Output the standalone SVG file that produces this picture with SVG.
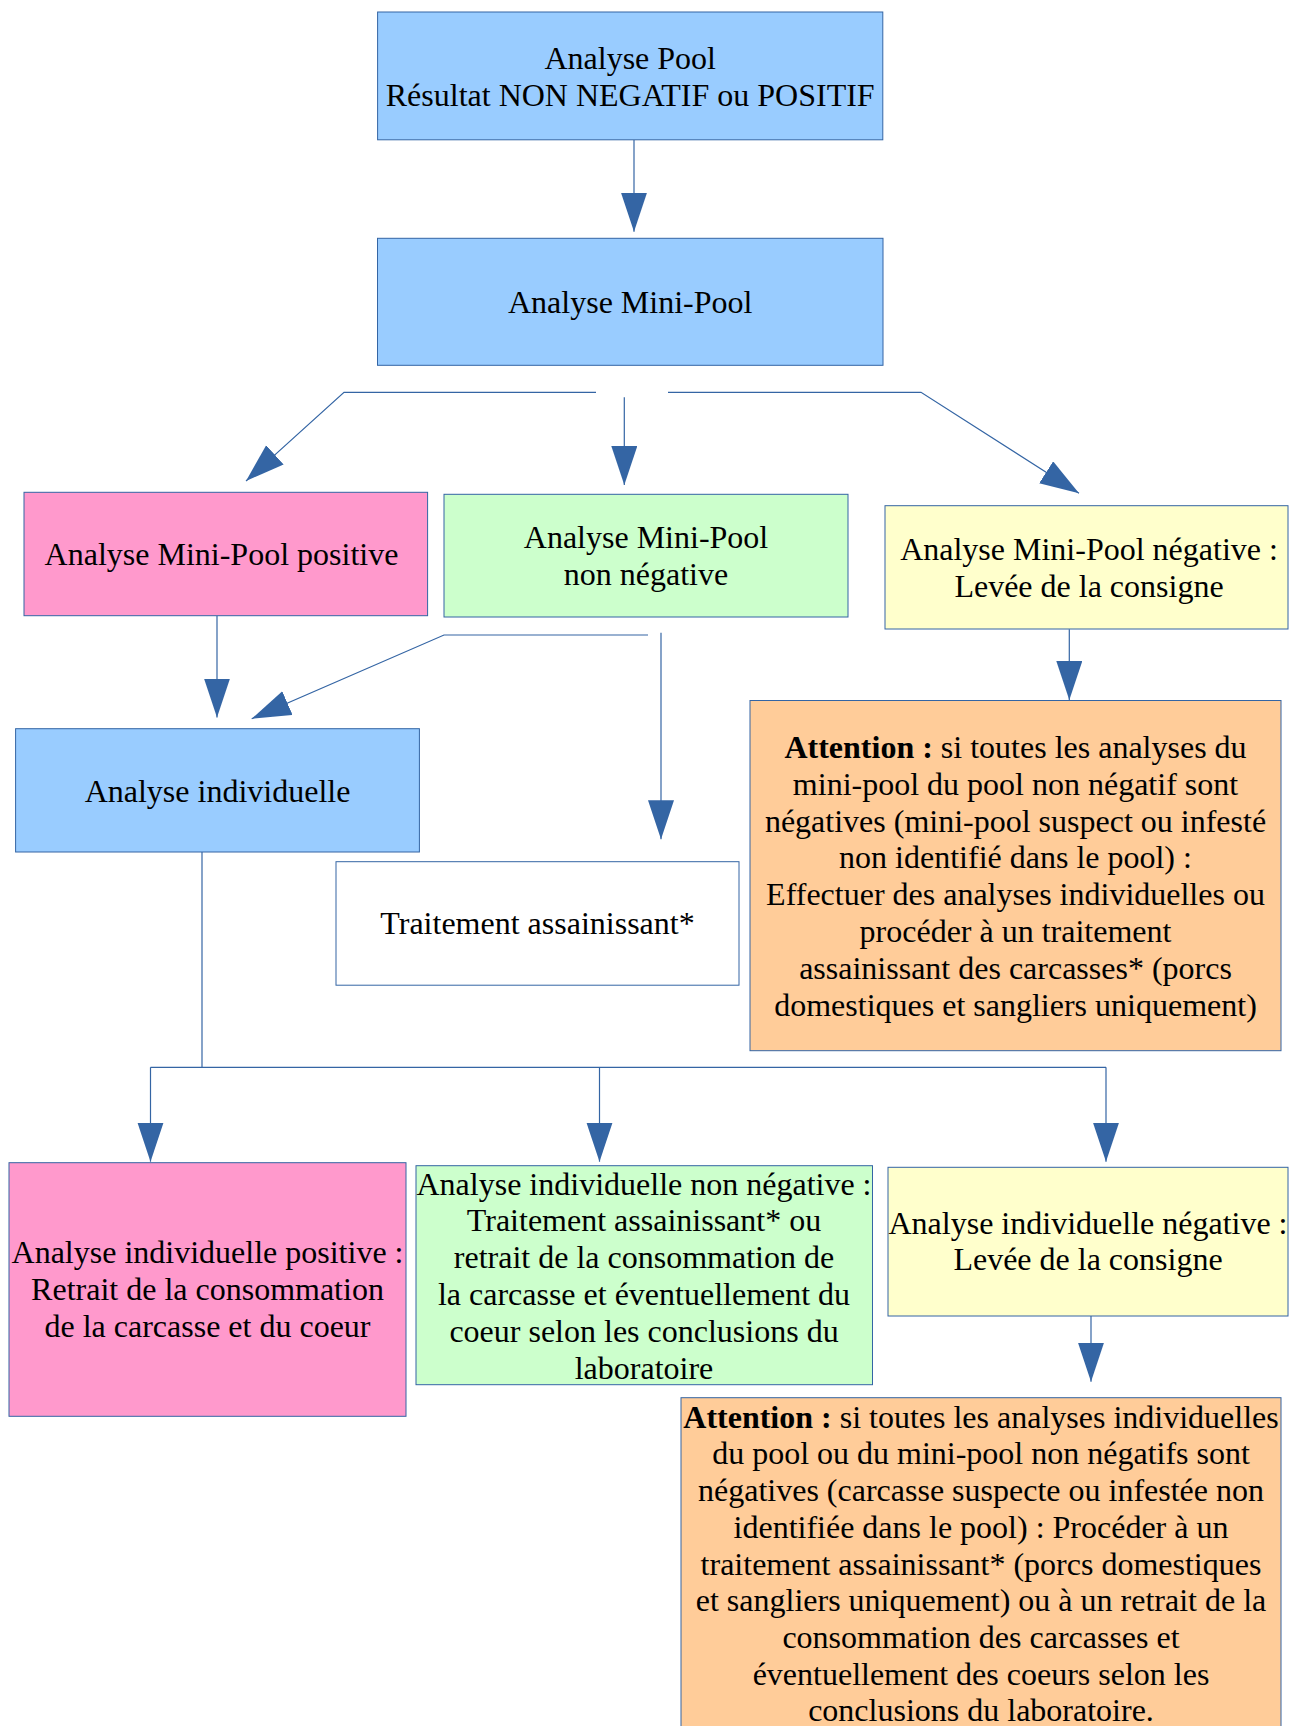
<svg xmlns="http://www.w3.org/2000/svg" width="1289" height="1726" viewBox="0 0 1289 1726">
<style>
.box{stroke:#3465a4;stroke-width:1}
.blue{fill:#99ccff}.pink{fill:#ff99cc}.green{fill:#ccffcc}.yellow{fill:#ffffcc}.orange{fill:#ffcc99}.white{fill:#ffffff}
text{font-family:"Liberation Serif","Times New Roman",serif;font-size:32px;fill:#000;text-anchor:middle}
.b{font-weight:bold}
.conn{fill:none;stroke:#3465a4;stroke-width:1.2;marker-end:url(#arr)}
.line{fill:none;stroke:#3465a4;stroke-width:1.2}
</style>
<defs>
<marker id="arr" markerUnits="userSpaceOnUse" markerWidth="40" markerHeight="27" refX="39" refY="13" orient="auto">
<path d="M0,0 L39,13 L0,26 z" fill="#3465a4"/>
</marker>
</defs>
<rect width="1289" height="1726" fill="#ffffff"/>

<g id="connectors">
<path class="conn" d="M634,140 V231.7"/>
<path class="conn" d="M596,392.3 H344 L246,481"/>
<path class="conn" d="M624.3,397.3 V485"/>
<path class="conn" d="M668,392.3 H921 L1079,493.3"/>
<path class="conn" d="M217,616 V717.5"/>
<path class="conn" d="M648,635 H444 L251.7,718.7"/>
<path class="conn" d="M661,632.7 V839.3"/>
<path class="conn" d="M1069.3,629.3 V700"/>
<path class="line" d="M202,852 V1067.3"/>
<path class="line" d="M150.5,1067.3 H1106"/>
<path class="conn" d="M150.5,1067.3 V1161.7"/>
<path class="conn" d="M599.5,1067.3 V1161.7"/>
<path class="conn" d="M1106,1067.3 V1161.7"/>
<path class="conn" d="M1091,1311 V1381.7"/>
</g>

<g id="n-pool">
<rect class="box blue" x="377.6" y="12" width="505.2" height="127.8"/>
<text x="630.2" y="69">Analyse Pool</text>
<text x="630.2" y="105.8">Résultat NON NEGATIF ou POSITIF</text>
</g>

<g id="n-minipool">
<rect class="box blue" x="377.5" y="238.3" width="505.5" height="127"/>
<text x="630.2" y="312.8">Analyse Mini-Pool</text>
</g>

<g id="n-mp-positive">
<rect class="box pink" x="24" y="492.3" width="403.6" height="123.4"/>
<text x="221.5" y="565">Analyse Mini-Pool positive</text>
</g>

<g id="n-mp-nonneg">
<rect class="box green" x="444" y="494.3" width="404" height="122.7"/>
<text x="646" y="548.4">Analyse Mini-Pool</text>
<text x="646" y="585.2">non négative</text>
</g>

<g id="n-mp-neg">
<rect class="box yellow" x="885" y="505.7" width="403" height="123.3"/>
<text x="1089" y="560">Analyse Mini-Pool négative :</text>
<text x="1089" y="596.8">Levée de la consigne</text>
</g>

<g id="n-indiv">
<rect class="box blue" x="15.6" y="728.7" width="403.8" height="123.3"/>
<text x="217.5" y="801.5">Analyse individuelle</text>
</g>

<g id="n-traitement">
<rect class="box white" x="336" y="861.7" width="403" height="123.5"/>
<text x="537.5" y="933.5">Traitement assainissant*</text>
</g>

<g id="n-attention1">
<rect class="box orange" x="750" y="700.5" width="531" height="350.2"/>
<text x="1015.5" y="757.9"><tspan class="b">Attention :</tspan> si toutes les analyses du</text>
<text x="1015.5" y="794.7">mini-pool du pool non négatif sont</text>
<text x="1015.5" y="831.5">négatives (mini-pool suspect ou infesté</text>
<text x="1015.5" y="868.3">non identifié dans le pool) :</text>
<text x="1015.5" y="905.1">Effectuer des analyses individuelles ou</text>
<text x="1015.5" y="941.9">procéder à un traitement</text>
<text x="1015.5" y="978.7">assainissant des carcasses* (porcs</text>
<text x="1015.5" y="1015.5">domestiques et sangliers uniquement)</text>
</g>

<g id="n-ind-positive">
<rect class="box pink" x="9" y="1162.7" width="397" height="253.6"/>
<text x="207.5" y="1263.4">Analyse individuelle positive :</text>
<text x="207.5" y="1300.2">Retrait de la consommation</text>
<text x="207.5" y="1337">de la carcasse et du coeur</text>
</g>

<g id="n-ind-nonneg">
<rect class="box green" x="416" y="1165.7" width="456.5" height="219"/>
<text x="644" y="1194.5">Analyse individuelle non négative :</text>
<text x="644" y="1231.3">Traitement assainissant* ou</text>
<text x="644" y="1268.1">retrait de la consommation de</text>
<text x="644" y="1304.9">la carcasse et éventuellement du</text>
<text x="644" y="1341.7">coeur selon les conclusions du</text>
<text x="644" y="1378.5">laboratoire</text>
</g>

<g id="n-ind-neg">
<rect class="box yellow" x="888" y="1167.3" width="400" height="148.7"/>
<text x="1088" y="1233.5">Analyse individuelle négative :</text>
<text x="1088" y="1270.3">Levée de la consigne</text>
</g>

<g id="n-attention2">
<rect class="box orange" x="681" y="1397.7" width="600" height="340"/>
<text x="981" y="1427.7"><tspan class="b">Attention :</tspan> si toutes les analyses individuelles</text>
<text x="981" y="1464.4">du pool ou du mini-pool non négatifs sont</text>
<text x="981" y="1501.1">négatives (carcasse suspecte ou infestée non</text>
<text x="981" y="1537.8">identifiée dans le pool) : Procéder à un</text>
<text x="981" y="1574.5">traitement assainissant* (porcs domestiques</text>
<text x="981" y="1611.2">et sangliers uniquement) ou à un retrait de la</text>
<text x="981" y="1647.9">consommation des carcasses et</text>
<text x="981" y="1684.6">éventuellement des coeurs selon les</text>
<text x="981" y="1721.3">conclusions du laboratoire.</text>
</g>
</svg>
